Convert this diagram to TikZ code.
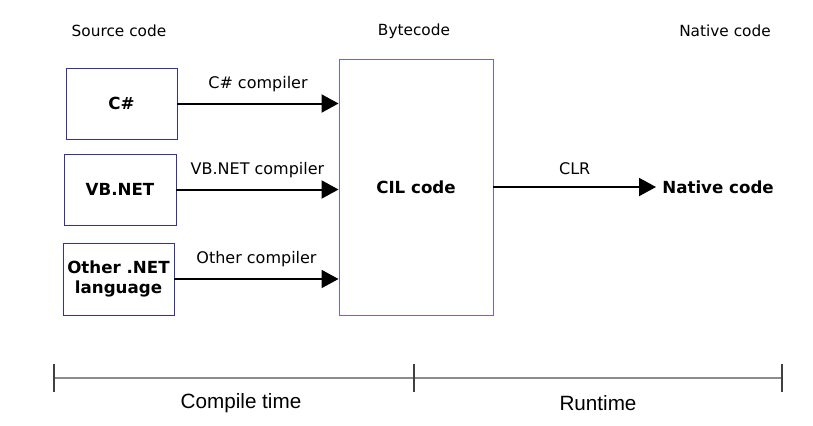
\documentclass[tikz,border=0pt]{standalone}
\usepackage{fontspec}
\setmainfont{DejaVu Sans}
\newfontfamily\timefont{Liberation Sans}
\usetikzlibrary{arrows.meta}

\begin{document}
\begin{tikzpicture}[x=0.75pt,y=-0.75pt,line width=1.5pt,>={Triangle[length=12.75pt,width=13.5pt]},
  font=\fontsize{12}{14}\selectfont,
  langbox/.style={draw=boxblue,line width=0.7pt,font=\fontsize{12.5}{14.5}\selectfont\bfseries,align=center},
  compile/.style={->,line width=1.5pt},
  stage/.style={font=\fontsize{11.5}{14}\selectfont},
  timelbl/.style={font=\fontsize{15.5}{17}\selectfont\timefont}]
\definecolor{boxblue}{RGB}{50,50,160}
\definecolor{cilblue}{RGB}{105,105,200}
\definecolor{axisgray}{RGB}{140,140,140}
\useasboundingbox (0,0) rectangle (813,425);
% column headers
\node[stage] (hsrc) at (119,31) {Source code};
\node[stage] (hbyte) at (414,31) {Bytecode};
\node[stage] (hnat) at (725,31) {Native code};
% source languages
\node[langbox,minimum width=83.25pt,minimum height=53.25pt] (cs) at (121.5,103.5) {C\#};
\node[langbox,minimum width=84pt,minimum height=53.25pt] (vb) at (120,189.5) {VB.NET};
\node[langbox,minimum width=83.25pt,minimum height=54pt,inner sep=0pt] (oth) at (118.5,279) {Other .NET\\language};
% bytecode
\node[draw=cilblue,line width=0.7pt,minimum width=115.5pt,minimum height=192pt,
  font=\fontsize{12.5}{14.5}\selectfont\bfseries] (cil) at (416,187) {CIL code};
% compilers
\draw[compile] (cs.east) -- (cs.east -| cil.west) node[midway,above=5pt] {C\# compiler};
\draw[compile] (vb.east) -- (vb.east -| cil.west) node[midway,above=5pt] {VB.NET compiler};
\draw[compile] (oth.east) -- (oth.east -| cil.west) node[midway,above=5pt] {Other compiler};
% runtime
\node[font=\fontsize{12.5}{14.5}\selectfont\bfseries,anchor=west,inner sep=4pt] (nat) at (656,187) {Native code};
\draw[compile] (cil.east |- nat.west) -- (nat.west) node[midway,above=5pt] {CLR};
% time line
\coordinate (t0) at (54,377.7);
\coordinate (t1) at (414,377.7);
\coordinate (t2) at (782,377.7);
\draw[axisgray,line width=1.5pt] (t0) -- (t2);
\foreach \t in {t0,t1,t2}
  \draw[black!75,line width=0.8pt] ([yshift=10pt]\t) -- ([yshift=-10.5pt]\t);
\node[timelbl] (ct) at (241,403) {Compile time};
\node[timelbl] (rt) at (598,403) {Runtime};
\end{tikzpicture}
\end{document}
